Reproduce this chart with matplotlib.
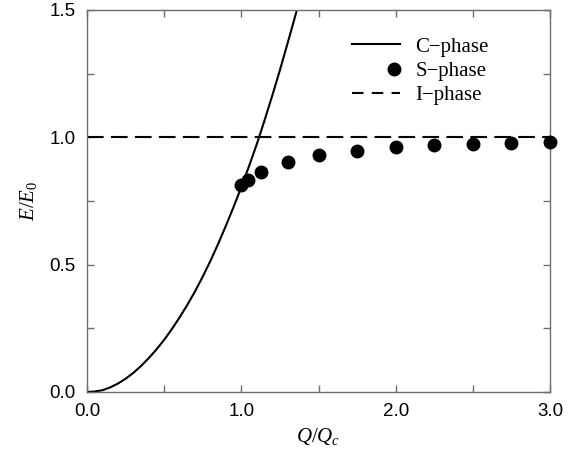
import numpy as np
import matplotlib
matplotlib.use("Agg")
import matplotlib.pyplot as plt
from matplotlib.legend_handler import HandlerLine2D
from matplotlib.ticker import MultipleLocator

# C-phase curve
c_x = [0.0, 0.05, 0.1, 0.15, 0.2, 0.25, 0.3, 0.35, 0.4, 0.45, 0.5, 0.55, 0.6, 0.65,
       0.7, 0.75, 0.8, 0.85, 0.9, 0.95, 1.0, 1.05, 1.1, 1.15, 1.2, 1.25, 1.3, 1.36]
c_y = [0.0, 0.002, 0.007, 0.018, 0.033, 0.052, 0.075, 0.102, 0.133, 0.167, 0.205, 0.247,
       0.293, 0.342, 0.395, 0.453, 0.515, 0.582, 0.653, 0.727, 0.805, 0.887, 0.973, 1.066,
       1.163, 1.264, 1.37, 1.5]

# S-phase points
s_x = [1.0, 1.04, 1.13, 1.3, 1.5, 1.75, 2.0, 2.25, 2.5, 2.75, 3.0]
s_y = [0.813, 0.832, 0.865, 0.902, 0.930, 0.947, 0.961, 0.969, 0.974, 0.979, 0.983]

# I-phase level
i_x = [0.0, 3.0]
i_y = [1.0, 1.0]

x_ticks = [0.0, 1.0, 2.0, 3.0]
y_ticks = [0.0, 0.5, 1.0, 1.5]

plt.rcParams['mathtext.fontset'] = 'custom'
plt.rcParams['mathtext.it'] = 'Liberation Serif:italic'
plt.rcParams['mathtext.rm'] = 'Liberation Serif'

fig = plt.figure(figsize=(5.79, 4.53), dpi=100)
ax = fig.add_axes([87/579, 61/453, 463/579, 382/453])

ax.plot(c_x, c_y, color='black', lw=1.5, label='C\u2212phase')
ax.plot(s_x, s_y, 'o', color='black', ms=9, label='S\u2212phase', clip_on=False, zorder=5)
ax.plot(i_x, i_y, color='black', lw=1.5, dashes=(8, 3.5), label='I\u2212phase')

ax.set_xlim(0, 3)
ax.set_ylim(0, 1.5)
ax.set_xticks(x_ticks)
ax.set_yticks(y_ticks)
ax.xaxis.set_minor_locator(MultipleLocator(0.5))
ax.yaxis.set_minor_locator(MultipleLocator(0.25))
ax.set_xticklabels([f'{v:.1f}' for v in x_ticks], family='Liberation Sans', fontsize=13.5)
ax.set_yticklabels([f'{v:.1f}' for v in y_ticks], family='Liberation Sans', fontsize=13.5)

grey = '#6e6e6e'
for s in ax.spines.values():
    s.set_color(grey)
    s.set_linewidth(1.0)
ax.tick_params(which='both', direction='in', top=True, right=True, color=grey, width=1.0)
ax.tick_params(which='major', length=5, pad=8)
ax.tick_params(which='minor', length=5)

ax.set_xlabel(r'$Q/Q_c$', fontsize=15, labelpad=4)
ax.set_ylabel(r'$E/E_0$', fontsize=15, labelpad=8)


class RightMarker(HandlerLine2D):
    def get_xdata(self, legend, xdescent, ydescent, width, height, fontsize):
        xr = -xdescent + width - 4.0
        xdata = np.array([xr, xr])
        return xdata, xdata[:1]


def short_dashes(legline, orig):
    legline.update_from(orig)
    legline.set_dashes((5.5, 4))


h, l = ax.get_legend_handles_labels()
leg = ax.legend(h, l, loc='upper left', bbox_to_anchor=(0.572, 0.929), frameon=False,
                prop={'family': 'Liberation Serif', 'size': 15},
                borderpad=0, borderaxespad=0,
                handlelength=2.3, handletextpad=0.75, labelspacing=0.22, numpoints=1,
                handler_map={h[1]: RightMarker(numpoints=1),
                             h[2]: HandlerLine2D(update_func=short_dashes)})

fig.savefig('out.png', dpi=100)
